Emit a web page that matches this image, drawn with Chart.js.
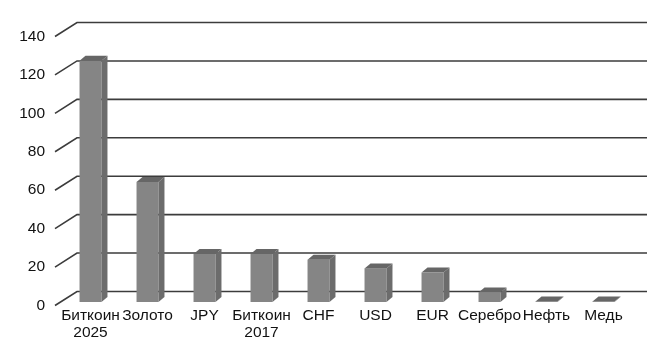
<!DOCTYPE html>
<html>
<head>
<meta charset="utf-8">
<script src="https://cdn.jsdelivr.net/npm/chart.js@4/dist/chart.umd.min.js"></script>
<style>
  html, body { margin: 0; padding: 0; background: #fff; }
  #wrap { width: 660px; height: 360px; }
</style>
</head>
<body>
<div id="wrap"><canvas id="assetChart" width="660" height="360"></canvas></div>
<script>
const categories = [["Биткоин", "2025"], "Золото", "JPY", ["Биткоин", "2017"], "CHF", "USD", "EUR", "Серебро", "Нефть", "Медь"];
const values = [125.5, 62.5, 25, 25, 22, 17.5, 15.3, 5, 0.3, 0.3];
const yTicks = [0, 20, 40, 60, 80, 100, 120, 140];

// depth offsets for the fake 3D look
const WALL_DX = 22, WALL_DY = -14;   // front plane -> back wall
const FRONT_DX = -6, FRONT_DY = 3.5; // bar plane -> front plane (labels)
const BAR_DX = 6, BAR_DY = -5;       // bar depth

const wallPlugin = {
  id: "wall",
  beforeDatasetsDraw(chart) {
    const ctx = chart.ctx;
    const y = chart.scales.y;
    const area = chart.chartArea;
    const fx = area.left + FRONT_DX - 1;
    const backRight = area.right + 15;
    ctx.save();
    ctx.strokeStyle = "#3c3c3c";
    ctx.lineWidth = 1.6;
    yTicks.forEach(function (v) {
      const py = y.getPixelForValue(v) + FRONT_DY;
      ctx.beginPath();
      ctx.moveTo(fx, py);
      ctx.lineTo(fx + WALL_DX, py + WALL_DY);
      ctx.lineTo(backRight, py + WALL_DY);
      ctx.stroke();
    });
    ctx.restore();
  },
  afterDatasetsDraw(chart) {
    const ctx = chart.ctx;
    const bars = chart.getDatasetMeta(0).data;
    ctx.save();
    bars.forEach(function (bar) {
      const half = bar.width / 2;
      const l = bar.x - half, r = bar.x + half;
      const top = bar.y, base = bar.base;
      // side face
      ctx.fillStyle = "#6c6c6c";
      ctx.beginPath();
      ctx.moveTo(r, top);
      ctx.lineTo(r + BAR_DX, top + BAR_DY);
      ctx.lineTo(r + BAR_DX, base + BAR_DY);
      ctx.lineTo(r, base);
      ctx.closePath();
      ctx.fill();
      // top face
      ctx.fillStyle = "#666666";
      ctx.beginPath();
      ctx.moveTo(l, top);
      ctx.lineTo(l + BAR_DX, top + BAR_DY);
      ctx.lineTo(r + BAR_DX, top + BAR_DY);
      ctx.lineTo(r, top);
      ctx.closePath();
      ctx.fill();
    });
    ctx.restore();
  }
};

new Chart(document.getElementById("assetChart"), {
  type: "bar",
  data: {
    labels: categories,
    datasets: [{
      data: values,
      backgroundColor: "#858585",
      borderWidth: 0,
      barPercentage: 0.77,
      categoryPercentage: 0.5
    }]
  },
  options: {
    responsive: false,
    animation: false,
    events: [],
    layout: { padding: { top: 33, right: 28, bottom: 0, left: 0 } },
    plugins: { legend: { display: false }, tooltip: { enabled: false } },
    scales: {
      x: {
        grid: { display: false, drawTicks: false },
        border: { display: false },
        ticks: {
          color: "#111",
          font: { family: "Liberation Sans, Arial, sans-serif", size: 15.5, lineHeight: 1.05 },
          padding: 6,
          maxRotation: 0,
          autoSkip: false
        },
        afterFit(scale) { scale.height = 58; }
      },
      y: {
        min: 0,
        max: 140,
        afterBuildTicks(scale) { scale.ticks = yTicks.map(function (v) { return { value: v }; }); },
        grid: { display: false, drawTicks: false },
        border: { display: false },
        ticks: {
          color: "#111",
          font: { family: "Liberation Sans, Arial, sans-serif", size: 15.5 },
          padding: 17,
          labelOffset: 3.5
        },
        afterFit(scale) { scale.width = 62; }
      }
    }
  },
  plugins: [wallPlugin]
});
</script>
</body>
</html>
